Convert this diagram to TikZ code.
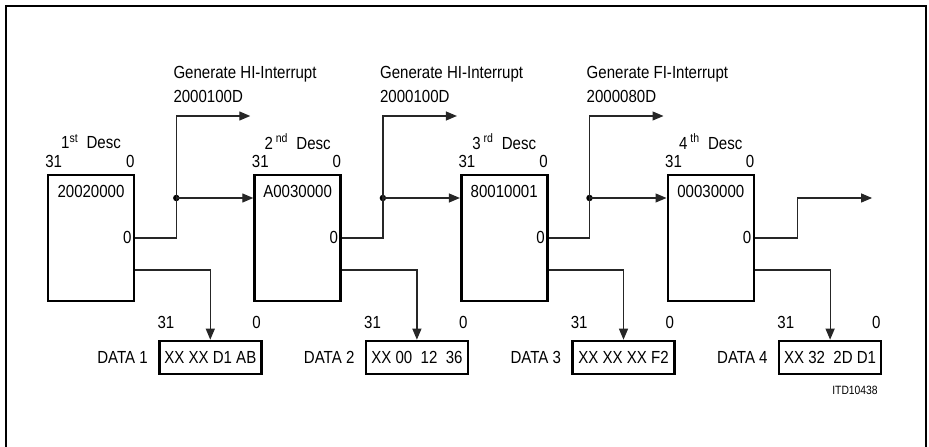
\documentclass[tikz,border=0pt]{standalone}
\usepackage{fontspec}
\setmainfont{Liberation Sans}[FakeStretch=0.86]
\usetikzlibrary{
  arrows.meta,
  positioning,
  calc
}
\tikzset{
  descbox/.style={draw, line width=2.6pt, minimum width=86pt, minimum height=126pt, inner sep=0pt},
  databox/.style={draw, line width=2.6pt, minimum width=102pt, minimum height=33pt, inner sep=0pt,
    font=\fontsize{17.5}{19}\selectfont},
  lbl/.style={font=\fontsize{17.5}{19}\selectfont, inner sep=0pt},
  intlbl/.style={font=\fontsize{17.5}{24}\selectfont, inner sep=0pt, align=left, anchor=south west},
  link/.style={line width=1.2pt, black!85},
  linkarr/.style={link, -{Triangle[length=11pt, width=9pt]}},
  junct/.style={circle, fill=black, inner sep=0pt, minimum size=6.5pt},
  frameline/.style={line width=1.5pt}
}

\begin{document}
\begin{tikzpicture}[x=1pt, y=1pt]
  \useasboundingbox (0,0) rectangle (929,447);
  \draw[frameline] (6,-4) -- (6,441) -- (926,441) -- (926,-4);

  % descriptors
  \node[descbox] (d1) at (91,209) {};
  \node[descbox, right=118pt of d1] (d2) {};
  \node[descbox, right=118pt of d2] (d3) {};
  \node[descbox, right=118pt of d3] (d4) {};

  \node[lbl] (t1) at ($(d1.north)+(0,32)$) {1\textsuperscript{st}~~Desc};
  \node[lbl] (t2) at ($(d2.north)+(0,32)$) {2\,\textsuperscript{nd}~~Desc};
  \node[lbl] (t3) at ($(d3.north)+(0,32)$) {3\,\textsuperscript{rd}~~Desc};
  \node[lbl] (t4) at ($(d4.north)+(0,32)$) {4\,\textsuperscript{th}~~Desc};

  \node[lbl] (h1) at ($(d1.north west)+(7,12)$) {31};
  \node[lbl] (l1) at ($(d1.north east)+(-5,12)$) {0};
  \node[lbl] (h2) at ($(d2.north west)+(7,12)$) {31};
  \node[lbl] (l2) at ($(d2.north east)+(-5,12)$) {0};
  \node[lbl] (h3) at ($(d3.north west)+(7,12)$) {31};
  \node[lbl] (l3) at ($(d3.north east)+(-5,12)$) {0};
  \node[lbl] (h4) at ($(d4.north west)+(7,12)$) {31};
  \node[lbl] (l4) at ($(d4.north east)+(-5,12)$) {0};

  \node[lbl] (v1) at ($(d1.north)+(0,-18)$) {20020000};
  \node[lbl] (v2) at ($(d2.north)+(0,-18)$) {A0030000};
  \node[lbl] (v3) at ($(d3.north)+(0,-18)$) {80010001};
  \node[lbl] (v4) at ($(d4.north)+(0,-18)$) {00030000};

  \node[lbl] (z1) at ($(d1.east)+(-8,1)$) {0};
  \node[lbl] (z2) at ($(d2.east)+(-8,1)$) {0};
  \node[lbl] (z3) at ($(d3.east)+(-8,1)$) {0};
  \node[lbl] (z4) at ($(d4.east)+(-8,1)$) {0};

  % data buffers
  \node[databox] (m1) at ($(d1.east)+(75,-119.5)$) {XX XX D1 AB};
  \node[databox] (m2) at ($(d2.east)+(75,-119.5)$) {XX 00~ 12~ 36};
  \node[databox] (m3) at ($(d3.east)+(75,-119.5)$) {XX XX XX F2};
  \node[databox] (m4) at ($(d4.east)+(75,-119.5)$) {XX 32~ 2D D1};

  \node[lbl, left=10pt of m1] (n1) {DATA 1};
  \node[lbl, left=10pt of m2] (n2) {DATA 2};
  \node[lbl, left=10pt of m3] (n3) {DATA 3};
  \node[lbl, left=10pt of m4] (n4) {DATA 4};

  \node[lbl] (a1) at ($(m1.north west)+(8,17)$) {31};
  \node[lbl] (b1) at ($(m1.north east)+(-6,17)$) {0};
  \node[lbl] (a2) at ($(m2.north west)+(8,17)$) {31};
  \node[lbl] (b2) at ($(m2.north east)+(-6,17)$) {0};
  \node[lbl] (a3) at ($(m3.north west)+(8,17)$) {31};
  \node[lbl] (b3) at ($(m3.north east)+(-6,17)$) {0};
  \node[lbl] (a4) at ($(m4.north west)+(8,17)$) {31};
  \node[lbl] (b4) at ($(m4.north east)+(-6,17)$) {0};

  % chain links and interrupts
  \node[junct] (j1) at ($(d1.east)+(41,40)$) {};
  \node[junct] (j2) at ($(d2.east)+(41,40)$) {};
  \node[junct] (j3) at ($(d3.east)+(41,40)$) {};
  \coordinate (i1) at ($(j1)+(74,82)$);
  \coordinate (i2) at ($(j2)+(74,82)$);
  \coordinate (i3) at ($(j3)+(74,82)$);
  \coordinate (e4) at ($(d4.east)+(117,40)$);

  \draw[link] (d1.east) -| (j1.center);
  \draw[link] (d2.east) -| (j2.center);
  \draw[link] (d3.east) -| (j3.center);
  \draw[linkarr] (j1.center) |- (i1);
  \draw[linkarr] (j2.center) |- (i2);
  \draw[linkarr] (j3.center) |- (i3);
  \draw[linkarr] (j1.center) -- (d2.west |- j1);
  \draw[linkarr] (j2.center) -- (d3.west |- j2);
  \draw[linkarr] (j3.center) -- (d4.west |- j3);
  \draw[linkarr] (d4.east) -- ++(42,0) |- (e4);

  \node[intlbl] (g1) at ($(j1 |- i1)+(-3,13)$) {Generate HI-Interrupt\\2000100D};
  \node[intlbl] (g2) at ($(j2 |- i2)+(-3,13)$) {Generate HI-Interrupt\\2000100D};
  \node[intlbl] (g3) at ($(j3 |- i3)+(-3,13)$) {Generate FI-Interrupt\\2000080D};

  % buffer pointers
  \coordinate (o1) at ($(d1.east)+(0,-32)$);
  \coordinate (o2) at ($(d2.east)+(0,-32)$);
  \coordinate (o3) at ($(d3.east)+(0,-32)$);
  \coordinate (o4) at ($(d4.east)+(0,-32)$);
  \draw[linkarr] (o1) -| (m1.north);
  \draw[linkarr] (o2) -| (m2.north);
  \draw[linkarr] (o3) -| (m3.north);
  \draw[linkarr] (o4) -| (m4.north);

  \node[lbl, font=\fontsize{12}{14}\selectfont] (itd) at (855,57) {ITD10438};
\end{tikzpicture}
\end{document}
